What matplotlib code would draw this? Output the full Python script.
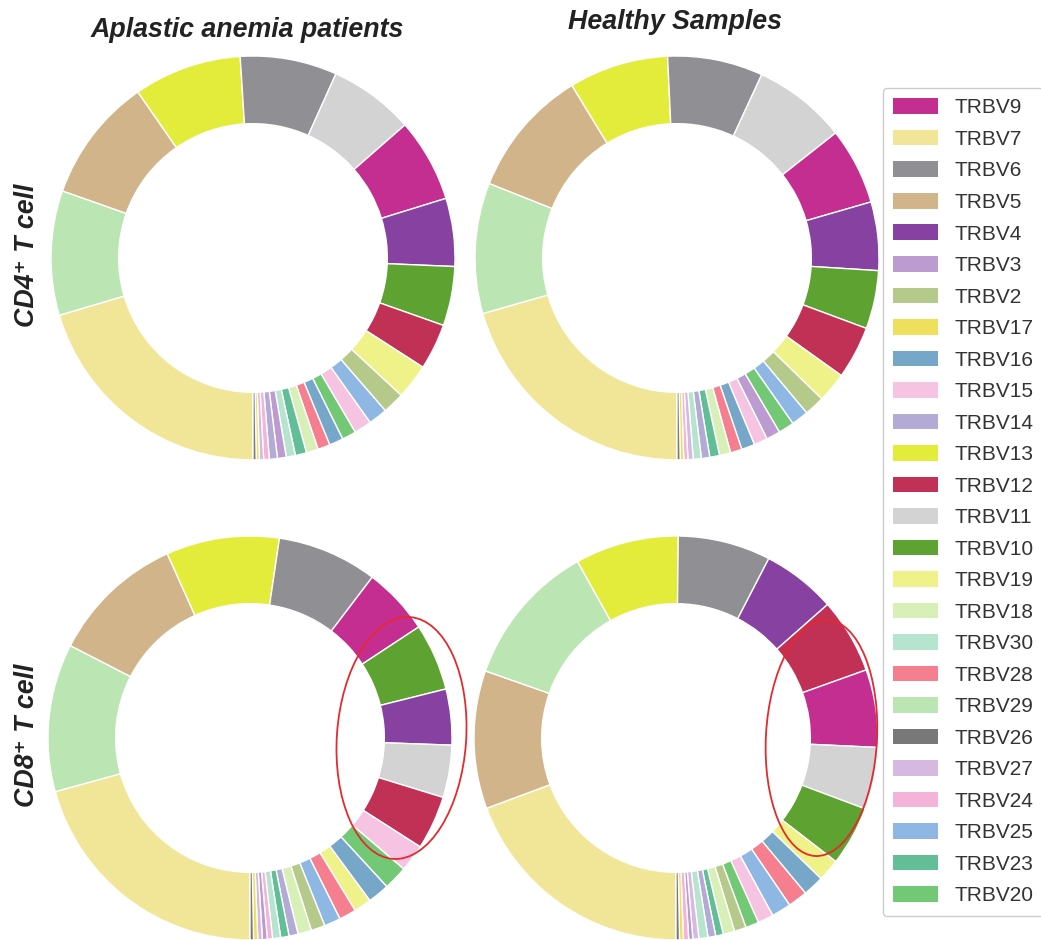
import matplotlib.pyplot as plt
from matplotlib.patches import Ellipse, Patch

plt.rcParams['font.family'] = ['Liberation Sans', 'DejaVu Sans']

# legend order and colours
genes = ["TRBV9", "TRBV7", "TRBV6", "TRBV5", "TRBV4", "TRBV3", "TRBV2", "TRBV17",
         "TRBV16", "TRBV15", "TRBV14", "TRBV13", "TRBV12", "TRBV11", "TRBV10",
         "TRBV19", "TRBV18", "TRBV30", "TRBV28", "TRBV29", "TRBV26", "TRBV27",
         "TRBV24", "TRBV25", "TRBV23", "TRBV20"]
gene_colors = ["#c42e90", "#f1e698", "#8f8f94", "#d2b48a", "#8741a0", "#bc9cd0",
               "#b5ca8a", "#eedf5c", "#76a6c8", "#f6c4e2", "#b3aad6", "#e4ec3b",
               "#c13156", "#d3d3d3", "#5ea232", "#eef288", "#d9efb8", "#b6e4ce",
               "#f57e8f", "#bbe6b4", "#787878", "#d6b9e0", "#f4b4da", "#8eb7e3",
               "#62be97", "#72c874"]
color_of = dict(zip(genes, gene_colors))

# usage per segment, clockwise from 6 o'clock
aa_cd4_labels = ["TRBV7", "TRBV29", "TRBV5", "TRBV13", "TRBV6", "TRBV11", "TRBV9",
                 "TRBV4", "TRBV10", "TRBV12", "TRBV19", "TRBV2", "TRBV25", "TRBV15",
                 "TRBV20", "TRBV16", "TRBV28", "TRBV18", "TRBV23", "TRBV30", "TRBV3",
                 "TRBV14", "TRBV24", "TRBV27", "TRBV17", "TRBV26"]
aa_cd4_values = [72.8, 35.5, 35.5, 30.8, 27.6, 24.3, 23.8, 19.4, 16.9, 13.1, 10.0,
                 6.2, 5.4, 5.0, 4.0, 4.0, 3.5, 3.4, 3.2, 2.6, 2.5, 2.3, 1.6, 1.2,
                 0.9, 0.9]

hs_cd4_labels = ["TRBV7", "TRBV29", "TRBV5", "TRBV13", "TRBV6", "TRBV11", "TRBV9",
                 "TRBV4", "TRBV10", "TRBV12", "TRBV19", "TRBV2", "TRBV25", "TRBV20",
                 "TRBV3", "TRBV15", "TRBV16", "TRBV28", "TRBV18", "TRBV23", "TRBV14",
                 "TRBV30", "TRBV27", "TRBV24", "TRBV17", "TRBV26"]
hs_cd4_values = [73.6, 37.4, 36.8, 28.5, 27.3, 26.8, 22.0, 19.6, 16.7, 15.1, 8.6,
                 5.8, 4.9, 4.5, 4.0, 3.9, 3.8, 3.3, 3.2, 2.8, 2.4, 2.3, 1.5, 1.2,
                 1.0, 0.9]

aa_cd8_labels = ["TRBV7", "TRBV29", "TRBV5", "TRBV13", "TRBV6", "TRBV9", "TRBV10",
                 "TRBV4", "TRBV11", "TRBV12", "TRBV15", "TRBV20", "TRBV16", "TRBV19",
                 "TRBV28", "TRBV25", "TRBV2", "TRBV18", "TRBV14", "TRBV23", "TRBV30",
                 "TRBV24", "TRBV3", "TRBV27", "TRBV17", "TRBV26"]
aa_cd8_values = [74.2, 42.4, 38.4, 32.4, 28.7, 19.3, 19.2, 16.0, 15.0, 15.4, 7.8,
                 6.9, 6.2, 5.0, 4.9, 4.7, 4.0, 3.9, 2.6, 2.4, 2.3, 1.5, 1.4, 1.3,
                 1.2, 1.0]

hs_cd8_labels = ["TRBV7", "TRBV5", "TRBV29", "TRBV13", "TRBV6", "TRBV4", "TRBV12",
                 "TRBV9", "TRBV11", "TRBV10", "TRBV19", "TRBV16", "TRBV28", "TRBV25",
                 "TRBV15", "TRBV20", "TRBV2", "TRBV18", "TRBV23", "TRBV14", "TRBV30",
                 "TRBV27", "TRBV3", "TRBV24", "TRBV17", "TRBV26"]
hs_cd8_values = [69.4, 39.6, 41.3, 29.7, 26.6, 21.2, 21.6, 22.3, 17.8, 17.1, 6.4,
                 6.0, 5.6, 5.6, 4.5, 3.8, 3.4, 3.3, 2.2, 2.2, 2.6, 1.7, 1.2, 1.5,
                 1.1, 1.0]

W, H = 1041, 940
fig = plt.figure(figsize=(W / 100, H / 100), dpi=100)


def donut(cx, cy, labels, values, highlight=None):
    # cx, cy, r in pixels from the top-left corner
    r = 202
    half = r * 1.05
    ax = fig.add_axes([(cx - half) / W, (H - cy - half) / H, 2 * half / W, 2 * half / H])
    ax.pie(values, colors=[color_of[g] for g in labels], startangle=-90,
           counterclock=False, radius=1,
           wedgeprops=dict(width=0.335, edgecolor="white", linewidth=1.0))
    ax.set_xlim(-1.05, 1.05)
    ax.set_ylim(-1.05, 1.05)
    ax.set_aspect("equal")
    ax.axis("off")
    if highlight:
        x, y, w, h, ang = highlight
        ax.add_patch(Ellipse((x, y), w, h, angle=ang, fill=False,
                             edgecolor="#e42a2e", linewidth=1.3, clip_on=False))
    return ax


donut(253, 258, aa_cd4_labels, aa_cd4_values)
donut(677, 258, hs_cd4_labels, hs_cd4_values)
donut(250, 738, aa_cd8_labels, aa_cd8_values, highlight=(0.75, 0.0, 0.64, 1.2, -4))
donut(676, 738, hs_cd8_labels, hs_cd8_values, highlight=(0.72, 0.0, 0.55, 1.17, -3))

title_kw = dict(fontsize=19.3, fontweight="bold", fontstyle="italic", color="#222222",
                ha="center", va="center")
fig.text(247 / W, 1 - 30 / H, "Aplastic anemia patients", **title_kw)
fig.text(675 / W, 1 - 22 / H, "Healthy Samples", **title_kw)
fig.text(27 / W, 1 - 255 / H, "CD4\u207a T cell", rotation=90, **title_kw)
fig.text(27 / W, 1 - 735 / H, "CD8\u207a T cell", rotation=90, **title_kw)

handles = [Patch(facecolor=c, edgecolor="none") for c in gene_colors]
fig.legend(handles, genes, loc="upper left", bbox_to_anchor=(883 / W, 1 - 88 / H),
           fontsize=15, labelcolor="#333333", handlelength=2.16, handleheight=0.77,
           handletextpad=0.75, labelspacing=0.6, borderpad=0.5, borderaxespad=0,
           frameon=True, fancybox=True, edgecolor="#cccccc", framealpha=1)

fig.savefig("out.png", dpi=100)
